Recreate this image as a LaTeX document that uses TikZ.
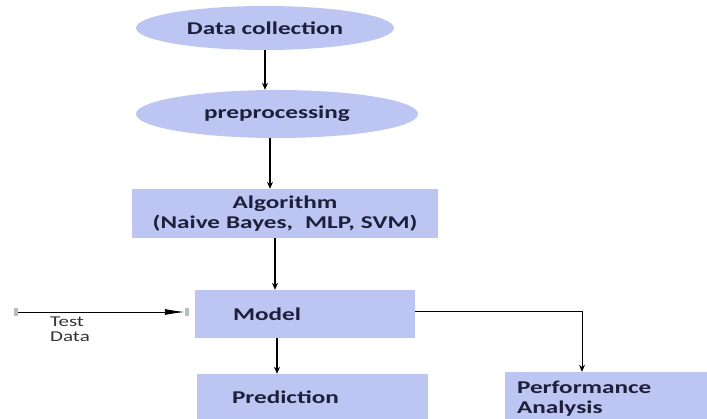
\documentclass[tikz,border=0pt]{standalone}
\usepackage{fontspec}
\usetikzlibrary{shapes.geometric,arrows.meta}
\newfontfamily\lblfont[FakeStretch=1.4]{Carlito}
\definecolor{boxfill}{RGB}{189,197,243}
\definecolor{txtnavy}{RGB}{28,32,58}
\definecolor{handle}{RGB}{180,190,200}
\tikzset{
  lbl/.style={font=\lblfont\fontsize{18}{20}\selectfont\bfseries, text=txtnavy},
  ell/.style={ellipse, fill=boxfill, draw=none, inner sep=0pt, lbl},
  boxnode/.style={rectangle, fill=boxfill, draw=none, inner ysep=0pt, lbl},
  arr/.style={draw=black, line width=1.1pt, -{Stealth[length=7pt,width=6pt]}},
  link/.style={draw=black, line width=0.9pt},
}
\begin{document}
\begin{tikzpicture}[x=1pt,y=-1pt]
\useasboundingbox (0,0) rectangle (707,419);
\begin{scope}
\clip (0,0) rectangle (707,419);
\node[ell, minimum width=258pt, minimum height=44pt] (dc) at (265,28) {Data collection};
\node[ell, minimum width=282pt, minimum height=48pt] (pp) at (277,114) {preprocessing};
\node[boxnode, text width=300pt, inner xsep=3pt, minimum height=49pt, align=center] (alg) at (285,213.5) {Algorithm\\(Naive Bayes,\ \ MLP, SVM)};
\node[boxnode, text width=144pt, inner xsep=38pt, minimum height=48pt, align=left] (model) at (305,314) {Model};
\node[boxnode, text width=161pt, inner xsep=35pt, minimum height=46pt, align=left] (pred) at (312.5,397) {Prediction};
\node[boxnode, text width=180pt, inner xsep=12pt, minimum height=53pt, align=left] (perf) at (607,398.5) {Performance\\Analysis};
\node[font=\lblfont\fontsize{15}{15}\selectfont, text=black!80, align=left, anchor=west, inner sep=0pt] (td) at (50,329.5) {Test\\Data};
\coordinate (tdstart) at (15,312);
\end{scope}
\draw[arr] (dc.south) -- (dc.south |- pp.north);
\draw[arr] ([xshift=-7pt]pp.south) -- ([xshift=-7pt]pp.south |- alg.north);
\draw[arr] ([xshift=-10pt]alg.south) -- ([xshift=-10pt]alg.south |- model.north);
\draw[arr] ([xshift=-28pt]model.south) -- ([xshift=-28pt]model.south |- pred.north);
\draw[link, -{Latex[length=20pt,width=6pt]}, shorten >=10pt] (tdstart) -- ([yshift=2pt]model.west);
\fill[handle] ([xshift=-1pt,yshift=-4pt]tdstart) rectangle ([xshift=3pt,yshift=4pt]tdstart);
\fill[handle] ([xshift=-10pt,yshift=-2pt]model.west) rectangle ([xshift=-6pt,yshift=6pt]model.west);
\draw[link, -{Stealth[length=7pt,width=6pt]}] ([yshift=3pt]model.east) -| ([xshift=-25pt]perf.north);
\end{tikzpicture}
\end{document}
